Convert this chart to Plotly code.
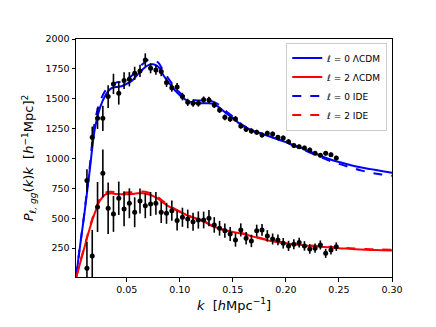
import plotly.graph_objects as go

# measured band powers (k in h/Mpc)
k_data = [0.0125 + 0.005 * i for i in range(48)]

p0_data = [815, 1177, 1336, 1336, 1518, 1624, 1546, 1652, 1663, 1713,
           1733, 1825, 1755, 1741, 1727, 1635, 1593, 1598, 1518, 1470,
           1462, 1462, 1492, 1490, 1448, 1406, 1345, 1331, 1331, 1272,
           1244, 1230, 1219, 1197, 1211, 1205, 1177, 1172, 1141, 1108,
           1099, 1088, 1071, 1044, 1027, 1044, 1032, 1004]
p0_err = [95, 90, 90, 105, 95, 85, 95, 70, 60, 55,
          52, 55, 42, 40, 38, 36, 35, 33, 32, 30,
          29, 28, 27, 26, 25, 24, 24, 23, 23, 22,
          22, 22, 21, 21, 21, 20, 20, 20, 20, 19,
          19, 19, 19, 18, 18, 18, 18, 18]

p2_data = [81, 184, 594, 876, 583, 536, 667, 578, 625, 550,
           644, 605, 619, 625, 550, 541, 563, 480, 508, 494,
           471, 485, 485, 500, 444, 416, 396, 368, 318, 402,
           332, 310, 396, 402, 352, 326, 318, 290, 268, 282,
           296, 268, 243, 249, 276, 206, 234, 262]
p2_err = [223, 218, 209, 200, 215, 150, 140, 145, 125, 125,
          105, 105, 100, 95, 90, 88, 85, 82, 80, 78,
          75, 72, 70, 68, 65, 62, 60, 58, 56, 55,
          53, 52, 50, 49, 48, 46, 45, 44, 43, 42,
          41, 40, 40, 39, 38, 38, 37, 36]

# model curves
k_model = [0.0025, 0.005, 0.01, 0.015, 0.02, 0.025, 0.03, 0.035, 0.04, 0.045,
           0.05, 0.055, 0.06, 0.065, 0.07, 0.075, 0.08, 0.085, 0.09, 0.095,
           0.10, 0.105, 0.11, 0.115, 0.12, 0.125, 0.13, 0.135, 0.14, 0.145,
           0.15, 0.155, 0.16, 0.17, 0.18, 0.19, 0.20, 0.21, 0.22, 0.23,
           0.24, 0.25, 0.26, 0.27, 0.28, 0.29, 0.30]

p0_lcdm = [15, 200, 530, 890, 1250, 1430, 1530, 1585, 1598, 1605,
           1625, 1650, 1700, 1745, 1780, 1788, 1765, 1690, 1630, 1575,
           1530, 1495, 1474, 1465, 1462, 1462, 1460, 1440, 1405, 1370,
           1340, 1300, 1268, 1228, 1198, 1168, 1137, 1103, 1068, 1032,
           998, 970, 947, 926, 911, 895, 880]
p0_ide = [15, 200, 540, 920, 1310, 1480, 1570, 1620, 1635, 1645,
          1665, 1695, 1745, 1790, 1825, 1828, 1800, 1725, 1660, 1600,
          1550, 1515, 1495, 1487, 1485, 1485, 1480, 1460, 1425, 1385,
          1350, 1310, 1275, 1232, 1200, 1168, 1135, 1098, 1060, 1022,
          985, 955, 928, 902, 880, 866, 856]

p2_lcdm = [10, 90, 250, 410, 545, 650, 700, 708, 703, 700,
           700, 703, 708, 708, 700, 685, 660, 625, 598, 575,
           553, 533, 512, 497, 483, 462, 437, 420, 405, 393,
           385, 376, 368, 344, 321, 303, 290, 279, 270, 263,
           256, 249, 244, 239, 235, 232, 229]
p2_ide = [10, 95, 260, 420, 560, 665, 715, 722, 718, 716,
          716, 718, 722, 723, 716, 700, 672, 637, 605, 580,
          558, 537, 515, 500, 486, 465, 440, 423, 408, 396,
          388, 380, 372, 348, 325, 307, 294, 283, 274, 267,
          261, 254, 249, 244, 240, 238, 236]

font = "DejaVu Sans"

fig = go.Figure()
fig.add_trace(go.Scatter(x=k_model, y=p0_lcdm, mode="lines", line_shape="spline",
                         line=dict(color="#0000ff", width=2),
                         name="<i>ℓ</i> = 0 ΛCDM"))
fig.add_trace(go.Scatter(x=k_model, y=p2_lcdm, mode="lines", line_shape="spline",
                         line=dict(color="#ff0000", width=2),
                         name="<i>ℓ</i> = 2 ΛCDM"))
fig.add_trace(go.Scatter(x=k_model, y=p0_ide, mode="lines", line_shape="spline",
                         line=dict(color="#0000ff", width=2, dash="dash"),
                         name="<i>ℓ</i> = 0 IDE"))
fig.add_trace(go.Scatter(x=k_model, y=p2_ide, mode="lines", line_shape="spline",
                         line=dict(color="#ff0000", width=2, dash="dash"),
                         name="<i>ℓ</i> = 2 IDE"))

for p, e in [(p0_data, p0_err), (p2_data, p2_err)]:
    fig.add_trace(go.Scatter(x=k_data, y=p, mode="markers", showlegend=False,
                             marker=dict(color="black", size=5),
                             error_y=dict(type="data", array=e, color="black",
                                          thickness=1.6, width=0)))

axis_style = dict(showgrid=False, zeroline=False, showline=True, mirror=True,
                  linecolor="black", linewidth=1, ticks="outside", ticklen=3.5,
                  tickcolor="black", tickfont=dict(family=font, size=9.5, color="black"))

fig.update_xaxes(range=[0.0022, 0.30], tickvals=[0.05, 0.10, 0.15, 0.20, 0.25, 0.30],
                 tickformat=".2f",
                 title=dict(text="<i>k</i>\u00a0\u00a0[<i>h</i>Mpc<sup>−1</sup>]",
                            font=dict(family=font, size=13, color="black"), standoff=6),
                 **axis_style)
fig.update_yaxes(range=[8, 2000], tickvals=[250, 500, 750, 1000, 1250, 1500, 1750, 2000],
                 title=dict(text="<i>P</i><sub><i>ℓ, gg</i></sub>(<i>k</i>)<i>k</i>"
                                 "\u00a0\u00a0[<i>h</i><sup>−1</sup>Mpc]<sup>2</sup>",
                            font=dict(family=font, size=13, color="black"), standoff=8),
                 **axis_style)

fig.update_layout(
    width=436, height=327,
    margin=dict(l=76, r=44, t=39, b=50),
    plot_bgcolor="white", paper_bgcolor="white",
    font=dict(family=font, color="black"),
    legend=dict(x=0.985, y=0.985, xanchor="right", yanchor="top",
                bgcolor="rgba(255,255,255,0.8)", bordercolor="#cccccc", borderwidth=1,
                font=dict(family=font, size=9, color="black"),
                itemwidth=30, tracegroupgap=0),
)

fig.write_html("out.html", config={"displayModeBar": False},
               post_script="document.body.style.margin='0';")
